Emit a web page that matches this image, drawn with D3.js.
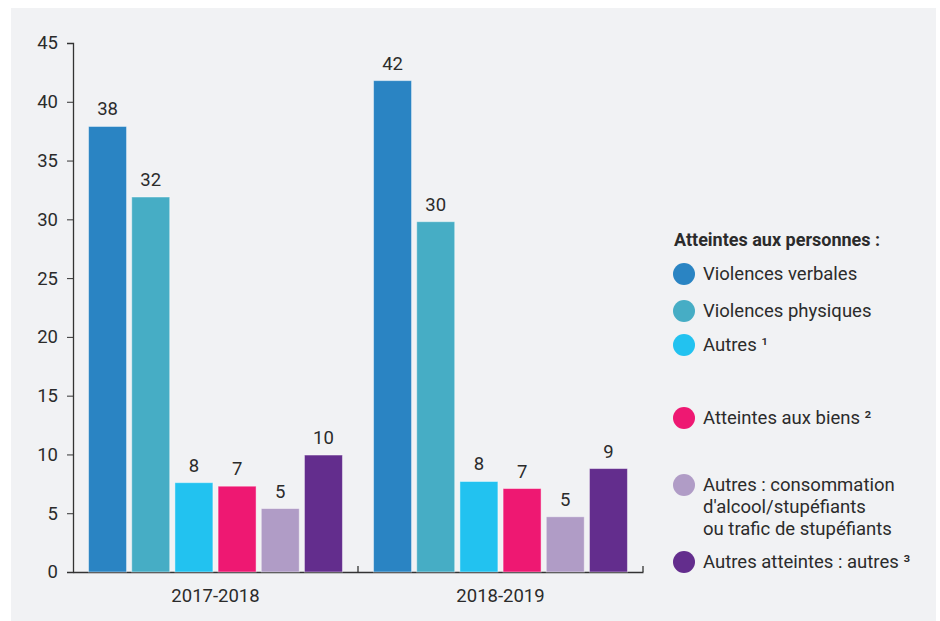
<html>
<head>
<meta charset="utf-8">
<style>
  body { margin: 0; background: #fff; }
  text { font-family: Roboto, "Noto Sans", sans-serif; fill: #2b2b2b; }
</style>
</head>
<body>
<svg width="940" height="621" class="chart"></svg>
<script src="https://d3js.org/d3.v7.min.js" charset="utf-8"></script>
<script>
    // values
    groups = ["2017-2018", "2018-2019"]
    series = ["Violences verbales", "Violences physiques", "Autres", "Atteintes aux biens", "Stupéfiants", "Autres atteintes"]
    values2017 = [37.9, 31.9, 7.6, 7.3, 5.4, 9.95]
    values2019 = [41.8, 29.8, 7.7, 7.1, 4.7, 8.8]
    yTicks = [0, 5, 10, 15, 20, 25, 30, 35, 40, 45]
    colors = ["#2a84c3", "#46adc5", "#22c2f0", "#ee1872", "#b09cc6", "#632d8d"]

    // legend rows: lines of text, with the series they stand for (null = header)
    legendRows = [
        { lines: ["Atteintes aux personnes :"], s: null },
        { lines: ["Violences verbales"], s: 0 },
        { lines: ["Violences physiques"], s: 1 },
        { lines: ["Autres ¹"], s: 2 },
        { lines: ["Atteintes aux biens ²"], s: 3 },
        { lines: ["Autres : consommation", "d'alcool/stupéfiants", "ou trafic de stupéfiants"], s: 4 },
        { lines: ["Autres atteintes : autres ³"], s: 5 },
    ]
    legendY = [246, 280, 317, 351, 424, 491, 568]

    var data = groups.map(function(g, i){
        var vals = i == 0 ? values2017 : values2019
        return { group: g, bars: series.map(function(s, j){ return { s: j, v: vals[j] } }) }
    })

    var svg = d3.select(".chart")
    svg.append("rect").attr("x", 11).attr("y", 8).attr("width", 925).attr("height", 613).attr("fill", "#f1f2f4")

    var x0 = d3.scaleBand().domain(groups).range([73, 643])
    var x1 = d3.scaleBand().domain(d3.range(series.length)).range([0, x0.bandwidth()])
        .paddingInner(0.12).paddingOuter(0.36)
    var y = d3.scaleLinear().domain([0, 45]).range([572, 43])

    // y axis
    var ya = svg.append("g").attr("transform", "translate(73,0)")
        .call(d3.axisLeft(y).tickValues(yTicks).tickSize(6).tickPadding(9))
    ya.selectAll("text").style("font-size", "18.5px").attr("fill", "#2b2b2b")
    ya.selectAll("line,path").attr("stroke", "#333")
    ya.select(".domain").attr("stroke-width", 1.3)

    // x axis
    var xa = svg.append("g").attr("transform", "translate(0,572)")
        .call(d3.axisBottom(x0).tickSize(0).tickPadding(17))
    xa.selectAll("text").style("font-size", "18.5px").attr("fill", "#2b2b2b")
    xa.select(".domain").attr("stroke", "#333").attr("stroke-width", 1.3)
    xa.selectAll(".sep").data(groups).enter().append("line")
        .attr("x1", function(d){ return x0(d) + x0.bandwidth() })
        .attr("x2", function(d){ return x0(d) + x0.bandwidth() })
        .attr("y1", 0).attr("y2", -6).attr("stroke", "#333").attr("stroke-width", 1.3)

    // bars
    var gs = svg.selectAll(".grp").data(data).enter().append("g")
        .attr("transform", function(d){ return "translate(" + x0(d.group) + ",0)" })
    gs.selectAll("rect").data(function(d){ return d.bars }).enter().append("rect")
        .attr("x", function(d){ return x1(d.s) })
        .attr("width", x1.bandwidth())
        .attr("y", function(d){ return y(d.v) })
        .attr("height", function(d){ return y(0) - y(d.v) })
        .attr("fill", function(d){ return colors[d.s] })
        .attr("stroke", "#ffffff").attr("stroke-opacity", 0.45).attr("stroke-width", 1)
    gs.selectAll(".lbl").data(function(d){ return d.bars }).enter().append("text")
        .attr("x", function(d){ return x1(d.s) + x1.bandwidth() / 2 })
        .attr("y", function(d){ return y(d.v) - 11 })
        .attr("text-anchor", "middle").style("font-size", "18.5px")
        .text(function(d){ return Math.round(d.v) })

    // legend
    var lg = svg.selectAll(".leg").data(legendRows).enter().append("g")
    lg.each(function(d, i){
        var g = d3.select(this)
        var base = legendY[i]
        if (d.s === null) {
            g.append("text").attr("x", 674).attr("y", base).style("font-size", "18px")
                .style("font-weight", "bold").text(d.lines[0])
            return
        }
        g.append("circle").attr("cx", 684).attr("cy", base - 6).attr("r", 11).attr("fill", colors[d.s])
        d.lines.forEach(function(l, k){
            g.append("text").attr("x", 703).attr("y", base + k * 22).style("font-size", "18.5px").text(l)
        })
    })
</script>
</body>
</html>
